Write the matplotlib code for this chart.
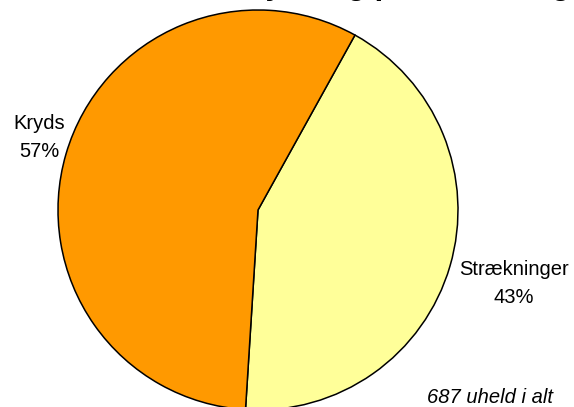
import matplotlib
matplotlib.use("Agg")
import matplotlib.pyplot as plt

# Accident distribution by location type
categories = ["Strækninger", "Kryds"]
counts = [295, 392]
percent_labels = ["43%", "57%"]
colors = ["#FFFF99", "#FF9900"]
total_label = "687 uheld i alt"
title = "Antal uheld i kryds og på strækning"

plt.rcParams["font.family"] = ["Liberation Sans", "DejaVu Sans"]

W, H = 574, 407
fig = plt.figure(figsize=(W / 100, H / 100), dpi=100)
ax = fig.add_axes([0, 0, 1, 1])

cx, cy, r = 258, H - 210, 200
ax.pie(counts, colors=colors, startangle=61, counterclock=False,
       center=(cx, cy), radius=r, frame=True,
       wedgeprops=dict(edgecolor="black", linewidth=1.1))
ax.set_xlim(0, W)
ax.set_ylim(0, H)
ax.set_aspect("equal")
ax.axis("off")

ax.text(514, H - 303, f"{categories[0]}\n{percent_labels[0]}", ha="center",
        va="baseline", fontsize=14.5, linespacing=1.6, multialignment="center")
ax.text(39, H - 157, f"{categories[1]}\n{percent_labels[1]}", ha="center",
        va="baseline", fontsize=14.5, linespacing=1.6, multialignment="center")
ax.text(553, H - 403, total_label, ha="right", va="baseline",
        fontsize=14.5, style="italic")

# Title sits mostly above the top edge; only its descenders show
fig.text(305 / W, 1 + 6 / H, title, ha="center", va="baseline",
         fontsize=22.5, fontweight="bold")

fig.savefig("out.png", dpi=100)
